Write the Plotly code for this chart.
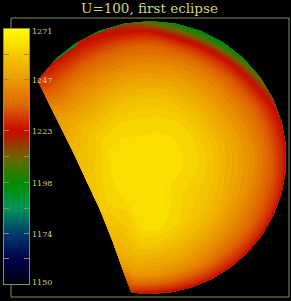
import numpy as np
import plotly.graph_objects as go

TITLE = "U=100, first eclipse"
tick_vals = [1150, 1162, 1174, 1186, 1198, 1210.5, 1223, 1235, 1247, 1259, 1271]
label_vals = [1150, 1174, 1198, 1223, 1247, 1271]
bar_vals = [1150, 1162, 1174, 1186, 1198, 1210.5, 1223, 1235, 1247, 1259, 1271]
bar_colors = ["#00000f", "#00004a", "#003c6e", "#00965a", "#008c00", "#6e6400",
              "#c80a00", "#de6400", "#eb9b00", "#f5c800", "#ffff00"]

ring_frac = [0, .18, .35, .48, .6, .75, .85, .92, .97, 1]
center_val = 1264
# temperature read along each spoke, from the inside out (rings .18 ... 1)
spoke_vals = [
    [1263.6, 1263.2, 1262.0, 1258, 1251, 1245, 1236, 1229, 1224],
    [1263.6, 1263.2, 1262.0, 1258, 1250, 1244, 1234, 1227, 1221],
    [1263.6, 1263.2, 1262.0, 1257, 1249, 1243, 1233, 1226, 1221],
    [1263.5, 1263.0, 1261.0, 1256, 1248, 1241, 1232, 1226, 1221],
    [1263.4, 1261.8, 1259.8, 1255, 1246, 1240, 1232, 1226, 1221],
    [1263.2, 1260.8, 1258.0, 1254, 1245, 1238, 1231, 1226, 1221],
    [1262.5, 1259.6, 1257.4, 1253, 1244, 1237, 1231, 1226, 1221],
    [1262.3, 1259.4, 1256.5, 1252, 1243, 1237, 1231, 1226, 1221],
    [1262.4, 1259.4, 1256.0, 1251, 1243, 1236, 1231, 1226, 1221],
    [1262.6, 1259.6, 1256.0, 1250, 1243, 1236, 1231, 1226, 1222],
    [1262.9, 1259.9, 1255.5, 1250, 1243, 1236, 1231, 1226, 1222],
    [1263.0, 1260.2, 1255.5, 1250, 1243, 1236, 1230, 1225, 1221],
    [1263.1, 1260.4, 1255.5, 1250, 1242, 1235, 1229, 1224, 1219],
    [1263.1, 1260.5, 1255.5, 1249, 1241, 1234, 1227, 1222, 1214],
    [1263.2, 1260.8, 1255.5, 1249, 1240, 1232, 1224, 1215, 1204],
    [1263.2, 1260.9, 1255.5, 1249, 1240, 1231, 1222, 1208, 1197],
    [1263.2, 1260.9, 1255.5, 1249, 1240, 1230, 1220, 1203, 1195],
    [1263.2, 1260.6, 1255.5, 1249, 1240, 1230, 1219, 1203, 1195],
    [1263.2, 1260.5, 1256.0, 1249, 1240, 1231, 1220, 1207, 1197],
    [1263.0, 1260.0, 1256.0, 1249, 1240, 1233, 1224, 1214, 1203],
    [1263.0, 1260.0, 1256.0, 1249, 1240, 1233, 1225, 1219, 1214],
    [1263.1, 1260.2, 1256.0, 1249, 1240, 1233, 1226, 1222, 1219],
    [1263.2, 1260.7, 1256.0, 1249, 1240, 1233, 1227, 1223, 1220],
    [1263.3, 1261.3, 1256.0, 1249, 1241, 1234, 1228, 1224, 1221],
    [1263.3, 1261.3, 1256.0, 1250, 1242, 1236, 1231, 1228, 1226],
    [1263.4, 1262.6, 1260.0, 1256, 1251, 1247, 1245, 1243, 1242],
    [1263.5, 1263.1, 1262.0, 1258, 1255, 1252, 1250, 1249, 1248],
    [1263.6, 1263.3, 1263.0, 1260, 1257, 1255, 1254, 1253.5, 1253],
    [1263.7, 1263.4, 1263.2, 1262, 1260, 1258, 1257, 1257, 1256],
    [1263.7, 1263.4, 1263.2, 1262, 1261, 1259.5, 1259, 1258.5, 1258],
    [1263.7, 1263.4, 1263.1, 1260, 1258, 1256, 1255, 1254, 1253],
    [1263.6, 1263.3, 1263.0, 1259, 1255, 1253, 1250, 1248, 1246],
    [1263.6, 1263.2, 1262.0, 1258, 1251, 1245, 1236, 1229, 1224],
    [1263.6, 1263.2, 1262.0, 1258, 1250, 1244, 1234, 1227, 1221],
]
limb_angles = [98.8, 90, 80, 70, 60, 50, 40, 30, 20, 10, 0, -10, -20, -30, -40, -50,
               -60, -70, -80, -90, -100, -110, -120, -130, -141.5]
terminator_pts = [(50, 106), (61, 128), (72, 150), (86, 180), (100, 210), (112, 240), (122, 268)]

# layout geometry (pixels of the photographed page)
W, H = 291, 301
CX, CY = 150.0, 170.0
OX, OY, OR = 150.0, 157.5, 136.5


def limb_point(deg):
    t = np.radians(deg)
    dx, dy = np.cos(t), np.sin(t)
    fx, fy = CX - OX, CY - OY
    b = fx * dx + fy * dy
    c = fx * fx + fy * fy - OR * OR
    r = -b + np.sqrt(b * b - c)
    return CX + r * dx, CY + r * dy


outline = [limb_point(a) for a in limb_angles] + terminator_pts
outline += [outline[0], limb_point(90)]  # overlap closes the seam

xs, ys, zs = [], [], []
for (px, py), vals in zip(outline, spoke_vals):
    xs.append([CX + f * (px - CX) for f in ring_frac])
    ys.append([CY + f * (py - CY) for f in ring_frac])
    zs.append([center_val] + list(vals))

zmin, zmax = min(bar_vals), max(bar_vals)
scale = [[(v - zmin) / (zmax - zmin), c] for v, c in zip(bar_vals, bar_colors)]
hidden = dict(showgrid=False, showticklabels="none", startline=False, endline=False,
              smoothing=0, minorgridcount=0, showline=False)
b_idx = list(range(len(outline)))

fig = go.Figure()
fig.add_trace(go.Carpet(a=ring_frac, b=b_idx, x=xs, y=ys, carpet="disc",
                        aaxis=hidden, baxis=hidden, xaxis="x", yaxis="y"))
fig.add_trace(go.Contourcarpet(a=ring_frac, b=b_idx, z=zs, carpet="disc",
                               colorscale=scale, zmin=zmin, zmax=zmax, showscale=False,
                               autocontour=False,
                               contours=dict(start=1150, end=1271, size=2, coloring="fill",
                                             showlines=False),
                               line=dict(width=0)))
fig.add_trace(go.Heatmap(x=[0, 1], y=bar_vals, z=[[v, v] for v in bar_vals], xaxis="x2", yaxis="y2",
                         colorscale=scale, zmin=zmin, zmax=zmax, showscale=False, zsmooth="best"))

OLIVE = "#8e8e46"
LABEL = "#d4d474"
FONT = "DejaVu Serif"
ann = []
for v in label_vals:
    shift = -3 if v == 1271 else (2 if v == 1150 else -1)
    ann.append(dict(xref="paper", yref="y2", x=30 / W, y=v, text=str(v), showarrow=False,
                    xanchor="left", yanchor="middle", yshift=shift,
                    font=dict(family=FONT, size=8, color=LABEL)))
ann.append(dict(xref="paper", yref="paper", x=150 / W, y=1 - 8 / H, text=TITLE, showarrow=False,
                xanchor="center", yanchor="middle", font=dict(family=FONT, size=13.5, color=LABEL)))

fig.update_layout(
    width=W, height=H, margin=dict(l=0, r=0, t=0, b=0), showlegend=False,
    paper_bgcolor="black", plot_bgcolor="black", annotations=ann,
    xaxis=dict(domain=[0, 1], range=[0, W], visible=False),
    yaxis=dict(domain=[0, 1], range=[H, 0], visible=False),
    xaxis2=dict(domain=[4 / W, 29 / W], range=[0, 1], anchor="y2", showline=True, mirror=True,
                linecolor=OLIVE, linewidth=1, showticklabels=False, ticks="", showgrid=False, zeroline=False),
    yaxis2=dict(domain=[1 - 284 / H, 1 - 29 / H], range=[zmin, zmax], anchor="x2", side="right",
                showline=True, mirror="ticks", linecolor=OLIVE, linewidth=1, ticks="inside",
                ticklen=5, tickcolor=OLIVE, tickvals=tick_vals, showticklabels=False,
                showgrid=False, zeroline=False),
    shapes=[dict(type="rect", xref="x", yref="y", x0=11, x1=289, y0=18, y1=297,
                 line=dict(color=OLIVE, width=1), layer="below")],
)
fig.write_html("out.html", config=dict(displayModeBar=False),
               post_script="document.body.style.margin='0';document.body.style.background='black';")
